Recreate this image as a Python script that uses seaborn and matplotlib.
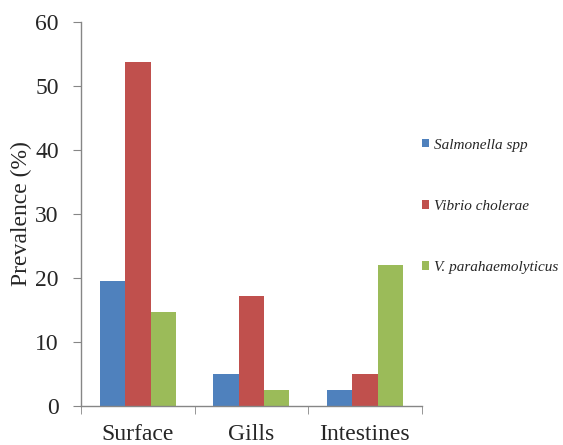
import matplotlib
matplotlib.use("Agg")
import matplotlib.pyplot as plt
import seaborn as sns
import pandas as pd

# values
sites = ["Surface", "Gills", "Intestines"]
species = ["Salmonella spp", "Vibrio cholerae", "V. parahaemolyticus"]
salmonella = [19.5, 4.9, 2.4]
vibrio = [53.7, 17.1, 4.9]
parahaem = [14.6, 2.4, 22.0]
yticks = [0, 10, 20, 30, 40, 50, 60]

colors = ["#4F81BD", "#C0504D", "#9BBB59"]

df = pd.DataFrame({
    "site": sites * 3,
    "species": [species[0]] * 3 + [species[1]] * 3 + [species[2]] * 3,
    "prevalence": salmonella + vibrio + parahaem,
})

sns.set_style("white")
plt.rcParams["font.family"] = ["Liberation Serif", "DejaVu Serif"]

fig = plt.figure(figsize=(5.63, 4.45), dpi=100)
ax = fig.add_axes([0.144, 0.088, 0.605, 0.863])

sns.barplot(data=df, x="site", y="prevalence", hue="species", order=sites,
            hue_order=species, palette=colors, width=0.67, saturation=1,
            errorbar=None, linewidth=0, ax=ax)

ax.set_xlim(-0.5, 2.5)
ax.set_ylim(0, 60)
ax.set_yticks(yticks)
ax.tick_params(axis="y", labelsize=17, length=6, color="#868686", left=True, pad=10)
ax.tick_params(axis="x", which="major", labelsize=17, length=0, pad=13)
ax.set_xticks([-0.5, 0.5, 1.5, 2.5], minor=True)
ax.tick_params(axis="x", which="minor", length=6, color="#868686", bottom=True, direction="out")
ax.set_xlabel("")
ax.set_ylabel("Prevalence (%)", fontsize=17, labelpad=2)

for s in ["top", "right"]:
    ax.spines[s].set_visible(False)
for s in ["left", "bottom"]:
    ax.spines[s].set_color("#868686")
    ax.spines[s].set_linewidth(1)

leg = ax.legend(loc="upper left", bbox_to_anchor=(0.982, 0.712), frameon=False,
                prop={"size": 11, "style": "italic", "family": "Liberation Serif"},
                handlelength=0.5, handleheight=0.5, handletextpad=0.3,
                labelspacing=3.15, borderaxespad=0)

fig.savefig("out.png", dpi=100)
